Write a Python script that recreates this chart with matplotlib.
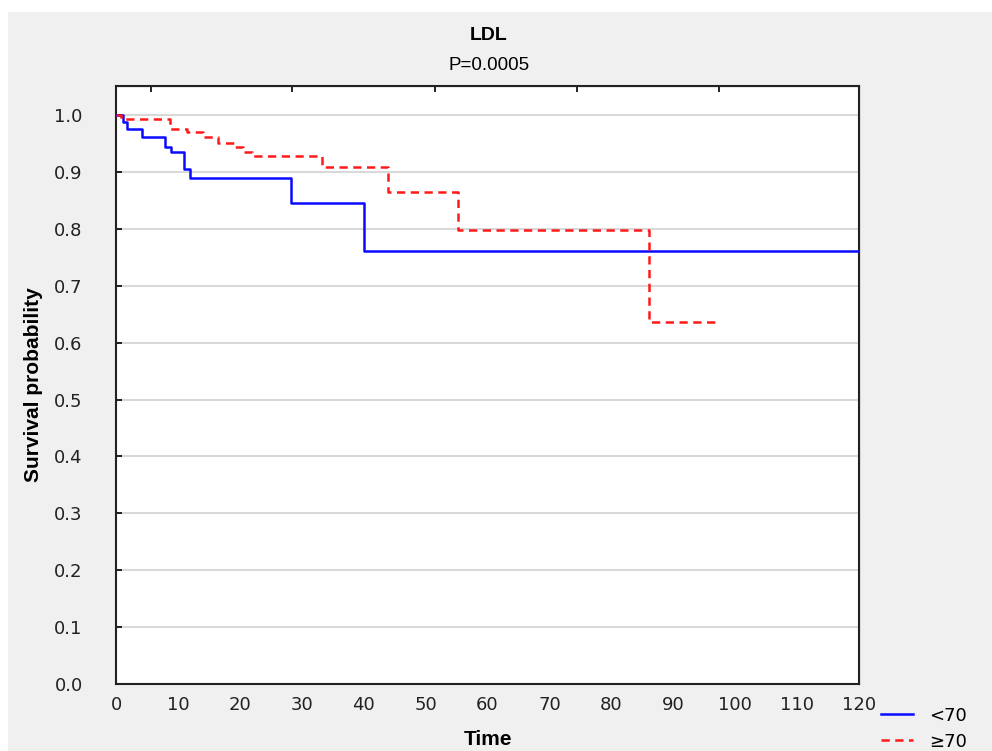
import matplotlib.pyplot as plt
from matplotlib.patches import Rectangle

# Kaplan-Meier step values
times_lt70 = [0, 1.1, 1.8, 4.2, 7.9, 8.9, 11.0, 12.0, 28.2, 40.0, 120]
surv_lt70 = [1.0, 0.988, 0.975, 0.961, 0.944, 0.935, 0.905, 0.889, 0.845, 0.761, 0.761]

times_ge70 = [0, 0.8, 8.7, 11.5, 14.0, 16.5, 19.0, 20.5, 22.0, 33.2, 44.0, 55.2, 86.1, 96.9]
surv_ge70 = [1.0, 0.993, 0.975, 0.970, 0.961, 0.951, 0.944, 0.935, 0.928, 0.908, 0.864, 0.798, 0.637, 0.637]

xticks = list(range(0, 121, 10))
yticks = [i / 10 for i in range(11)]
top_ticks = [5.7, 28.5, 51.5, 74.4, 97.4]
right_ticks = [0.1, 0.3, 0.5, 0.7, 0.9]

narrow = ['Liberation Sans', 'DejaVu Sans']

fig = plt.figure(figsize=(9.92, 7.51), dpi=100)
fig.patch.set_facecolor('white')
fig.add_artist(Rectangle((8 / 992, 0), 1, 1 - 12 / 751, transform=fig.transFigure,
                         facecolor='#f0f0f0', edgecolor='none', zorder=0))

ax = fig.add_axes([116 / 992, 1 - 684 / 751, (859 - 116) / 992, (684 - 86) / 751])
ax.set_facecolor('white')

ax.step(times_lt70, surv_lt70, where='post', color='#0a0aff', lw=1.8, label='<70', zorder=3)
ax.step(times_ge70, surv_ge70, where='post', color='#ff1a1a', lw=1.8,
        linestyle=(0, (3.3, 2.2)), label='\u226570', zorder=3)

ax.set_xlim(0, 120)
ax.set_ylim(0, 1.051)
ax.set_xticks(xticks)
ax.set_yticks(yticks)
ax.set_yticklabels([f'{v:.1f}' for v in yticks])
ax.tick_params(axis='x', length=0, pad=9, labelsize=13, labelcolor='#222222')
ax.tick_params(axis='y', direction='in', length=4, width=1.2, pad=24,
               labelsize=13, labelcolor='#222222')

ax.grid(axis='y', color='#d9d9d9', lw=1.5)
ax.grid(axis='x', visible=False)

for s in ax.spines.values():
    s.set_linewidth(1.5)
    s.set_color('#222222')

# extra ticks on top and right spines
ax2 = ax.secondary_xaxis('top')
ax2.set_xticks(top_ticks)
ax2.tick_params(direction='in', length=4, width=1.2, labeltop=False)
ax3 = ax.secondary_yaxis('right')
ax3.set_yticks(right_ticks)
ax3.tick_params(direction='in', length=4, width=1.2, labelright=False)

fig.text(489 / 992, 1 - 35 / 751, 'LDL', ha='center', va='center',
         fontsize=14, fontweight='bold', family=narrow)
fig.text(489 / 992, 1 - 66 / 751, 'P=0.0005', ha='center', va='center',
         fontsize=13.5, family=narrow)
ax.set_xlabel('Time', fontsize=15, fontweight='bold', family=narrow, labelpad=11)
ax.set_ylabel('Survival probability', fontsize=15, fontweight='bold', family=narrow, labelpad=8)

ax.legend(loc='upper left', bbox_to_anchor=(868 / 992, 1 - 694 / 751),
          bbox_transform=fig.transFigure, frameon=False, fontsize=13,
          handlelength=1.8, labelspacing=0.45, handletextpad=0.9, borderpad=0.2)

fig.savefig('out.png', dpi=100, facecolor=fig.get_facecolor())
